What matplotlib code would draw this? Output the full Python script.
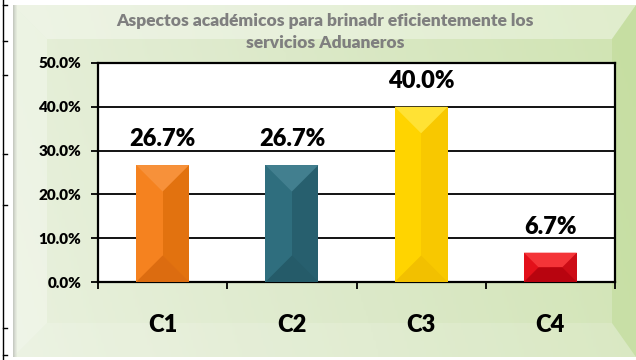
import numpy as np
import matplotlib
matplotlib.use("Agg")
import matplotlib.pyplot as plt
from matplotlib.patches import Polygon, Rectangle
from matplotlib.colors import LinearSegmentedColormap

plt.rcParams['font.family'] = ['Lato', 'DejaVu Sans']
plt.rcParams['font.weight'] = 'heavy'

categories = ['C1', 'C2', 'C3', 'C4']
values = [26.7, 26.7, 40.0, 6.7]
yticks = [0, 10, 20, 30, 40, 50]
title = 'Aspectos académicos para brinadr eficientemente los\nservicios Aduaneros'

# left half, right half, top face, bottom face
bar_shades = [
    ('#F5821F', '#E2720F', '#F7913A', '#DC6C10'),
    ('#2F6E7E', '#275F6E', '#427F8F', '#255B69'),
    ('#FFD400', '#F8C800', '#FFE234', '#F2C000'),
    ('#E3101A', '#CC0C16', '#F43438', '#B8040F'),
]

W, H = 636, 360
fig = plt.figure(figsize=(W / 100, H / 100), dpi=100)
fig.patch.set_facecolor('white')

# background panel in pixel coordinates
bg = fig.add_axes([0, 0, 1, 1], zorder=-5)
bg.set_xlim(0, W)
bg.set_ylim(H, 0)
bg.axis('off')

px0, px1, py0, py1 = 13, 636, 5, 357
gx = np.linspace(0, 1, 256)
gy = np.linspace(0, 1, 128)[:, None]
cmap = LinearSegmentedColormap.from_list('panel', ['#e9f1de', '#dce9c9', '#d0e4b2'])
grad = gx[None, :] * 0.85 + 0.15 * (1 - gy)
bg.imshow(grad, cmap=cmap, extent=(px0, px1, py1, py0), aspect='auto', zorder=0)

# bevelled edges of the panel
b = 34
faces = [
    ([(px0, py0), (px1, py0), (px1 - 24, py0 + b), (px0 + b, py0 + b)], 'white', 0.35),
    ([(px0, py0), (px0 + b, py0 + b), (px0 + b, py1 - b), (px0, py1)], 'white', 0.30),
    ([(px0, py1), (px0 + b, py1 - b), (px1 - 24, py1 - b), (px1, py1)], 'white', 0.15),
    ([(px1, py0), (px1 - 24, py0 + b), (px1 - 24, py1 - b), (px1, py1)], '#b5d585', 0.35),
]
for pts, col, a in faces:
    bg.add_patch(Polygon(pts, closed=True, facecolor=col, edgecolor='none', alpha=a, zorder=1))

# soft shadow on the left edge of the panel
for i, a in enumerate([0.35, 0.25, 0.15, 0.08]):
    bg.add_patch(Rectangle((px0 + i, py0), 1, py1 - py0, facecolor='#808080',
                           edgecolor='none', alpha=a, zorder=2))

# edge of the neighbouring table on the far left
bg.plot([3, 3], [0, H], color='black', lw=1, zorder=3)
for yy in [5, 41, 75, 154, 205, 328, 355]:
    bg.plot([3, 7], [yy, yy], color='black', lw=1, zorder=3)

fig.text(325 / W, 1 - 32 / H, title, ha='center', va='center', color='#7f7f7f',
         fontsize=12.5, fontweight='heavy', linespacing=1.45)

ax = fig.add_axes([98 / W, 78 / H, 517 / W, 219 / H])
ax.set_facecolor('white')
x = np.arange(len(categories))
ax.set_xlim(-0.5, len(categories) - 0.5)
ax.set_ylim(0, 50)

bars = ax.bar(x, values, width=0.41, color=[s[0] for s in bar_shades], zorder=3)

# bevel shading for each bar, built from the bar geometry
inv = ax.transData.inverted()
for rect, shades in zip(bars, bar_shades):
    left, right, top_c, bot_c = shades
    x0, y0 = rect.get_x(), rect.get_y()
    x1, y1 = x0 + rect.get_width(), y0 + rect.get_height()
    (dx0, dy0), (dx1, dy1) = ax.transData.transform([(x0, y0), (x1, y1)])
    d = min((dx1 - dx0) / 2, (dy1 - dy0) / 2)
    xm = (dx0 + dx1) / 2

    def poly(pts, col, z):
        ax.add_patch(Polygon(inv.transform(pts), closed=True, facecolor=col,
                             edgecolor='none', zorder=z))

    poly([(xm, dy0), (dx1, dy0), (dx1, dy1), (xm, dy1)], right, 4)
    poly([(dx0, dy1), (dx1, dy1), (dx1 - d, dy1 - d), (dx0 + d, dy1 - d)], top_c, 5)
    poly([(dx0, dy0), (dx1, dy0), (dx1 - d, dy0 + d), (dx0 + d, dy0 + d)], bot_c, 5)

for xi, v in zip(x, values):
    ax.annotate(f'{v:.1f}%', (xi, v), xytext=(0, 13.5), textcoords='offset points',
                ha='center', va='baseline', fontsize=17, fontweight='heavy', color='black')

ax.set_yticks(yticks)
ax.set_yticklabels([f'{t:.1f}%' for t in yticks])
ax.yaxis.grid(True, color='black', lw=1.3, zorder=1)
ax.set_axisbelow(True)
ax.set_xticks(x)
ax.set_xticklabels(categories)
ax.set_xticks(np.arange(-0.5, len(categories)), minor=True)
ax.tick_params(axis='x', which='major', length=0, pad=23, labelsize=17)
ax.tick_params(axis='x', which='minor', length=5, width=1.3, direction='out')
ax.tick_params(axis='y', length=5, width=1.3, pad=7, labelsize=11)
for s in ax.spines.values():
    s.set_linewidth(1.6)
    s.set_color('black')

fig.savefig('out.png', dpi=100)
